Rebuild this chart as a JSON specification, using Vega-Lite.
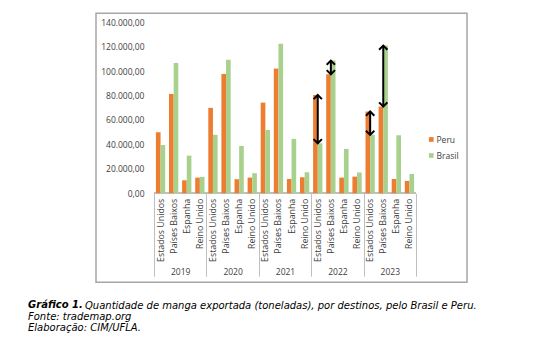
{
  "$schema": "https://vega.github.io/schema/vega-lite/v6.json",
  "autosize": {"type": "pad"},
  "padding": {"left": 27, "top": 12.25, "right": 0, "bottom": 0},
  "background": "white",
  "datasets": {
    "bars": [
      {"year": "2019", "country": "Estados Unidos", "series": "Peru", "value": 50000},
      {"year": "2019", "country": "Estados Unidos", "series": "Brasil", "value": 39500},
      {"year": "2019", "country": "Países Baixos", "series": "Peru", "value": 81300},
      {"year": "2019", "country": "Países Baixos", "series": "Brasil", "value": 106700},
      {"year": "2019", "country": "Espanha", "series": "Peru", "value": 10600},
      {"year": "2019", "country": "Espanha", "series": "Brasil", "value": 30800},
      {"year": "2019", "country": "Reino Unido", "series": "Peru", "value": 12800},
      {"year": "2019", "country": "Reino Unido", "series": "Brasil", "value": 13400},
      {"year": "2020", "country": "Estados Unidos", "series": "Peru", "value": 69900},
      {"year": "2020", "country": "Estados Unidos", "series": "Brasil", "value": 47800},
      {"year": "2020", "country": "Países Baixos", "series": "Peru", "value": 97700},
      {"year": "2020", "country": "Países Baixos", "series": "Brasil", "value": 109200},
      {"year": "2020", "country": "Espanha", "series": "Peru", "value": 11500},
      {"year": "2020", "country": "Espanha", "series": "Brasil", "value": 38700},
      {"year": "2020", "country": "Reino Unido", "series": "Peru", "value": 12800},
      {"year": "2020", "country": "Reino Unido", "series": "Brasil", "value": 16400},
      {"year": "2021", "country": "Estados Unidos", "series": "Peru", "value": 74200},
      {"year": "2021", "country": "Estados Unidos", "series": "Brasil", "value": 51800},
      {"year": "2021", "country": "Países Baixos", "series": "Peru", "value": 102100},
      {"year": "2021", "country": "Países Baixos", "series": "Brasil", "value": 122300},
      {"year": "2021", "country": "Espanha", "series": "Peru", "value": 11700},
      {"year": "2021", "country": "Espanha", "series": "Brasil", "value": 44500},
      {"year": "2021", "country": "Reino Unido", "series": "Peru", "value": 13100},
      {"year": "2021", "country": "Reino Unido", "series": "Brasil", "value": 17200},
      {"year": "2022", "country": "Estados Unidos", "series": "Peru", "value": 80500},
      {"year": "2022", "country": "Estados Unidos", "series": "Brasil", "value": 40900},
      {"year": "2022", "country": "Países Baixos", "series": "Peru", "value": 97400},
      {"year": "2022", "country": "Países Baixos", "series": "Brasil", "value": 108600},
      {"year": "2022", "country": "Espanha", "series": "Peru", "value": 12800},
      {"year": "2022", "country": "Espanha", "series": "Brasil", "value": 36300},
      {"year": "2022", "country": "Reino Unido", "series": "Peru", "value": 13600},
      {"year": "2022", "country": "Reino Unido", "series": "Brasil", "value": 17000},
      {"year": "2023", "country": "Estados Unidos", "series": "Peru", "value": 66900},
      {"year": "2023", "country": "Estados Unidos", "series": "Brasil", "value": 47800},
      {"year": "2023", "country": "Países Baixos", "series": "Peru", "value": 71000},
      {"year": "2023", "country": "Países Baixos", "series": "Brasil", "value": 120900},
      {"year": "2023", "country": "Espanha", "series": "Peru", "value": 11700},
      {"year": "2023", "country": "Espanha", "series": "Brasil", "value": 47500},
      {"year": "2023", "country": "Reino Unido", "series": "Peru", "value": 10100},
      {"year": "2023", "country": "Reino Unido", "series": "Brasil", "value": 15800}
    ],
    "arrows": [
      {"year": "2022", "country": "Estados Unidos", "lo": 40900, "hi": 80500},
      {"year": "2022", "country": "Países Baixos", "lo": 97400, "hi": 108600},
      {"year": "2023", "country": "Estados Unidos", "lo": 47800, "hi": 66900},
      {"year": "2023", "country": "Países Baixos", "lo": 71000, "hi": 120900}
    ]
  },
  "title": {
    "text": "Quantidade de manga exportada (toneladas), por destinos, pelo Brasil e Peru.",
    "orient": "bottom",
    "anchor": "start",
    "frame": "group",
    "dx": -11,
    "dy": -33,
    "offset": 0,
    "font": "DejaVu Sans",
    "fontSize": 10,
    "fontStyle": "italic",
    "fontWeight": "normal",
    "color": "#000000"
  },
  "bounds": "flush",
  "vconcat": [
    {
      "width": 371,
      "height": 269,
      "title": {
        "text": "Gráfico 1.",
        "subtitle": ["Fonte: trademap.org", "Elaboração: CIM/UFLA."],
        "orient": "bottom",
        "anchor": "start",
        "frame": "group",
        "dx": -68,
        "offset": 18,
        "font": "DejaVu Sans",
        "fontSize": 10,
        "fontStyle": "italic",
        "fontWeight": "bold",
        "color": "#000000",
        "subtitleFont": "DejaVu Sans",
        "subtitleFontSize": 10,
        "subtitleFontStyle": "italic",
        "subtitleFontWeight": "normal",
        "subtitleColor": "#000000",
        "subtitleLineHeight": 11.5,
        "subtitlePadding": 1.5
      },
      "layer": [
        {
          "data": {"name": "bars"},
          "mark": {"type": "rect", "fill": "transparent", "stroke": "#bfbfbf", "strokeWidth": 1},
          "encoding": {
            "x": {
              "field": "year",
              "type": "nominal",
              "sort": null,
              "scale": {"paddingInner": 0, "paddingOuter": 0, "range": [58, 320]},
              "axis": {
                "orient": "bottom",
                "offset": -89,
                "title": null,
                "domain": false,
                "ticks": true,
                "tickBand": "extent",
                "tickSize": 83,
                "tickColor": "#bfbfbf",
                "tickWidth": 1,
                "labelPadding": -9,
                "labelAngle": 0,
                "labelFontSize": 8.5,
                "labelColor": "#404040"
              }
            },
            "y": {
              "datum": 0,
              "type": "quantitative",
              "axis": {
                "orient": "left",
                "offset": -50,
                "title": null,
                "values": [0, 20000, 40000, 60000, 80000, 100000, 120000, 140000],
                "tickCount": 10,
                "format": ",.2f",
                "domain": false,
                "ticks": false,
                "grid": false,
                "labelOverlap": false,
                "labelPadding": 2,
                "labelFontSize": 8.5,
                "labelColor": "#404040"
              }
            },
            "y2": {"datum": 0}
          }
        },
        {
          "layer": [
            {
              "data": {"name": "bars"},
              "transform": [{"calculate": "datum.year + '|' + datum.country", "as": "key"}],
              "mark": {"type": "bar"},
              "encoding": {
                "x": {
                  "field": "key",
                  "type": "nominal",
                  "sort": null,
                  "scale": {"paddingInner": 0, "paddingOuter": 0, "range": [58, 320]},
                  "axis": {
                    "orient": "bottom",
                    "offset": -89,
                    "title": null,
                    "domain": false,
                    "ticks": false,
                    "labelAngle": -90,
                    "labelPadding": 5,
                    "labelExpr": "split(datum.value, '|')[1]",
                    "labelFontSize": 8.8,
                    "labelColor": "#404040"
                  }
                },
                "xOffset": {
                  "field": "series",
                  "type": "nominal",
                  "sort": ["Peru", "Brasil"],
                  "scale": {"paddingInner": 0, "paddingOuter": 0.41}
                },
                "y": {
                  "field": "value",
                  "type": "quantitative",
                  "stack": null,
                  "scale": {"domain": [-72866, 147369], "nice": false, "zero": false},
                  "axis": {
                    "orient": "left",
                    "offset": -50,
                    "title": null,
                    "values": [0, 20000, 40000, 60000, 80000, 100000, 120000, 140000],
                    "tickCount": 10,
                    "format": ",.2f",
                    "domain": false,
                    "ticks": false,
                    "grid": false,
                    "labelOverlap": false,
                    "labelPadding": 2,
                    "labelFontSize": 8.5,
                    "labelColor": "#404040"
                  }
                },
                "color": {
                  "field": "series",
                  "type": "nominal",
                  "scale": {"domain": ["Peru", "Brasil"], "range": ["#ED7D31", "#A9D18E"]},
                  "legend": {
                    "title": null,
                    "orient": "none",
                    "legendX": 331,
                    "legendY": 122,
                    "symbolType": "square",
                    "symbolSize": 22,
                    "labelFontSize": 8.5,
                    "rowPadding": 7,
                    "labelOffset": 1,
                    "labelColor": "#404040"
                  }
                }
              }
            },
            {
              "data": {"name": "arrows"},
              "transform": [{"calculate": "datum.year + '|' + datum.country", "as": "key"}],
              "mark": {"type": "rule", "color": "#000000", "strokeWidth": 2},
              "encoding": {
                "x": {"field": "key", "type": "nominal", "sort": null},
                "y": {"field": "lo", "type": "quantitative"},
                "y2": {"field": "hi"}
              }
            },
            {
              "data": {"name": "arrows"},
              "transform": [{"calculate": "datum.year + '|' + datum.country", "as": "key"}],
              "mark": {"type": "point", "shape": "M-1,1L0,0L1,1", "filled": false, "stroke": "#000000", "strokeWidth": 2, "size": 70, "opacity": 1},
              "encoding": {
                "x": {"field": "key", "type": "nominal", "sort": null},
                "y": {"field": "hi", "type": "quantitative"}
              }
            },
            {
              "data": {"name": "arrows"},
              "transform": [{"calculate": "datum.year + '|' + datum.country", "as": "key"}],
              "mark": {"type": "point", "shape": "M-1,-1L0,0L1,-1", "filled": false, "stroke": "#000000", "strokeWidth": 2, "size": 70, "opacity": 1},
              "encoding": {
                "x": {"field": "key", "type": "nominal", "sort": null},
                "y": {"field": "lo", "type": "quantitative"}
              }
            }
          ]
        }
      ],
      "resolve": {"scale": {"x": "independent"}}
    }
  ],
  "config": {
    "locale": {"number": {"decimal": ",", "thousands": ".", "grouping": [3], "currency": ["R$", ""]}},
    "font": "Open Sans",
    "view": {"stroke": "#a6a6a6", "strokeWidth": 1.5},
    "axis": {"labelFont": "Open Sans"},
    "axisY": {"labelOverlap": false},
    "legend": {"labelFont": "Open Sans"}
  }
}
